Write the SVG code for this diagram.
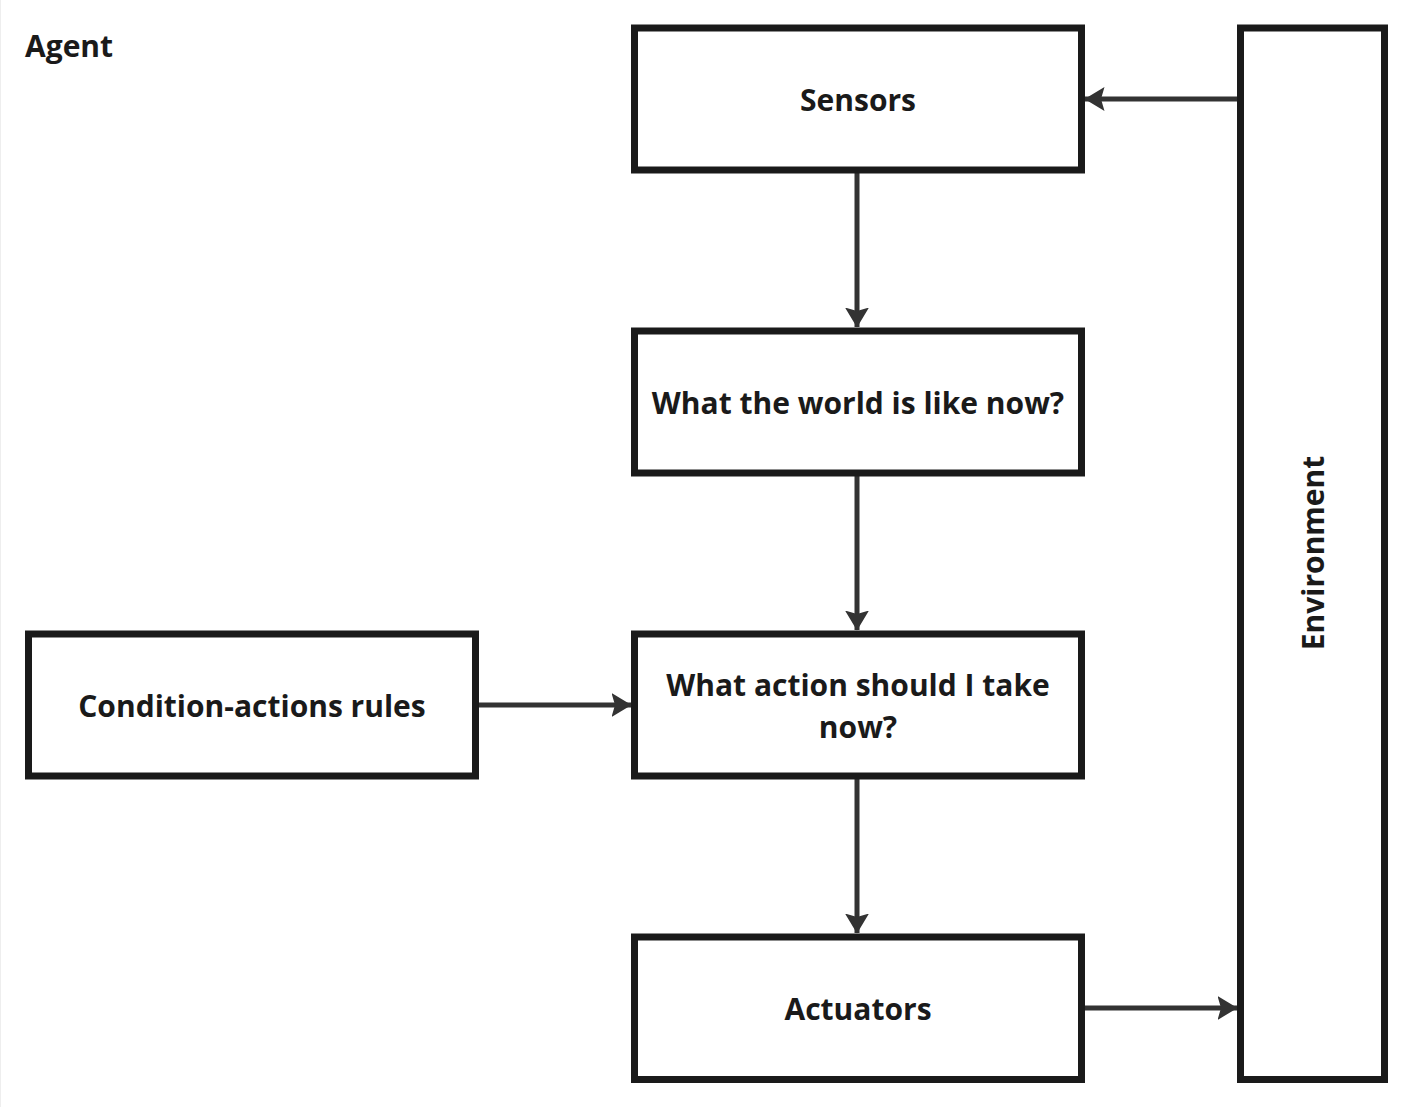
<svg xmlns="http://www.w3.org/2000/svg" width="1410" height="1107" viewBox="0 0 1410 1107">
<style>
.box{fill:#fff;stroke:#1a1a1a;stroke-width:7}
.t{font-family:"Open Sans","Noto Sans",sans-serif;font-weight:bold;font-size:30px;fill:#1a1a1a;text-anchor:middle;dominant-baseline:central}
.c{stroke:#333;stroke-width:5;fill:none;marker-end:url(#ah)}
</style>
<defs>
<marker id="ah" viewBox="0 0 20 24" refX="19.5" refY="12" markerWidth="20" markerHeight="24" orient="auto" markerUnits="userSpaceOnUse">
<path d="M0,0 L20,12 L0,24 L3.5,12 Z" fill="#333"/>
</marker>
</defs>
<rect x="0" y="0" width="1410" height="1107" fill="#fff"/>
<line x1="0.5" y1="0" x2="0.5" y2="1107" stroke="#eee" stroke-width="1"/>
<text x="25" y="45" class="t" style="text-anchor:start">Agent</text>
<g id="connectors">
<line class="c" x1="1237" y1="99" x2="1085" y2="99"/>
<line class="c" x1="857" y1="172" x2="857" y2="327"/>
<line class="c" x1="857" y1="475" x2="857" y2="630"/>
<line class="c" x1="478" y1="705" x2="631" y2="705"/>
<line class="c" x1="857" y1="778" x2="857" y2="933"/>
<line class="c" x1="1084" y1="1008" x2="1237" y2="1008"/>
</g>
<g id="sensors">
<rect class="box" x="634.5" y="28" width="447" height="142"/>
<text class="t" x="858" y="99">Sensors</text>
</g>
<g id="world">
<rect class="box" x="634.5" y="331" width="447" height="142"/>
<text class="t" x="858" y="402">What the world is like now?</text>
</g>
<g id="action">
<rect class="box" x="634.5" y="634" width="447" height="142"/>
<text class="t" x="858" y="684">What action should I take</text>
<text class="t" x="858" y="726">now?</text>
</g>
<g id="actuators">
<rect class="box" x="634.5" y="937" width="447" height="142.5"/>
<text class="t" x="858" y="1008">Actuators</text>
</g>
<g id="rules">
<rect class="box" x="28.5" y="634" width="447" height="142"/>
<text class="t" x="252" y="705">Condition-actions rules</text>
</g>
<g id="environment">
<rect class="box" x="1240.5" y="28" width="144" height="1051.5"/>
<text class="t" x="0" y="0" transform="translate(1312,553) rotate(-90)">Environment</text>
</g>
</svg>
